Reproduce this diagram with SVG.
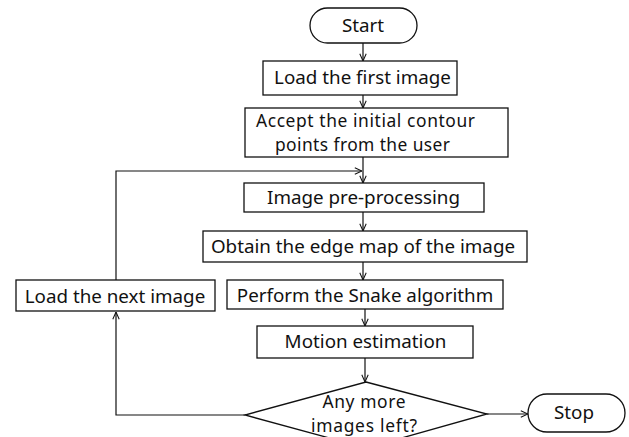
<svg xmlns="http://www.w3.org/2000/svg" width="629" height="437" viewBox="0 0 629 437">
<defs>
<style>
.box{fill:#fff;stroke:#111;stroke-width:1.3}
.t{font-family:"Noto Sans","Open Sans",sans-serif;font-size:18.8px;fill:#111;text-anchor:middle}
.t2{font-size:17.4px}
.c{fill:none;stroke:#111;stroke-width:1.2}
</style>
<marker id="ah" viewBox="0 0 10 10" refX="10" refY="5" markerWidth="8" markerHeight="8" orient="auto" markerUnits="userSpaceOnUse">
<path d="M1,1 L10,5 L1,9" fill="none" stroke="#111" stroke-width="1.3"/>
</marker>
</defs>
<rect width="629" height="437" fill="#fff"/>
<g id="connectors">
<line class="c" x1="363" y1="43" x2="363" y2="61" marker-end="url(#ah)"/>
<line class="c" x1="363" y1="95" x2="363" y2="108" marker-end="url(#ah)"/>
<line class="c" x1="363" y1="157" x2="363" y2="183" marker-end="url(#ah)"/>
<polyline class="c" points="116,280 116,171 362,171" marker-end="url(#ah)"/>
<line class="c" x1="363" y1="212" x2="363" y2="231" marker-end="url(#ah)"/>
<line class="c" x1="363" y1="262" x2="363" y2="280" marker-end="url(#ah)"/>
<line class="c" x1="365" y1="309" x2="365" y2="326" marker-end="url(#ah)"/>
<line class="c" x1="365" y1="358" x2="365" y2="382" marker-end="url(#ah)"/>
<polyline class="c" points="245,415 116,415 116,312" marker-end="url(#ah)"/>
<line class="c" x1="487" y1="414" x2="528" y2="414" marker-end="url(#ah)"/>
</g>
<g id="start">
<rect class="box" x="310" y="8" width="107" height="35" rx="17.5"/>
<text class="t" x="363" y="32">Start</text>
</g>
<g id="load-first">
<rect class="box" x="263" y="61" width="194" height="34"/>
<text class="t" x="362.5" y="84">Load the first image</text>
</g>
<g id="accept">
<rect class="box" x="245" y="108" width="263" height="49"/>
<text class="t t2"><tspan x="365.5" y="127" textLength="219" lengthAdjust="spacing">Accept the initial contour</tspan><tspan x="362.5" y="151" textLength="175" lengthAdjust="spacing">points from the user</tspan></text>
</g>
<g id="preprocess">
<rect class="box" x="244" y="183" width="240" height="29"/>
<text class="t" x="363.5" y="204">Image pre-processing</text>
</g>
<g id="edge-map">
<rect class="box" x="203" y="231" width="324" height="31"/>
<text class="t" x="363" y="253">Obtain the edge map of the image</text>
</g>
<g id="snake">
<rect class="box" x="227" y="280" width="276" height="29"/>
<text class="t" x="365" y="302">Perform the Snake algorithm</text>
</g>
<g id="load-next">
<rect class="box" x="16" y="280" width="199" height="31"/>
<text class="t" x="115" y="303">Load the next image</text>
</g>
<g id="motion">
<rect class="box" x="257" y="326" width="216" height="32"/>
<text class="t" x="365.5" y="348">Motion estimation</text>
</g>
<g id="decision">
<polygon class="box" points="366,382 487,414 366,448 245,415"/>
<text class="t t2"><tspan x="364" y="408" textLength="83" lengthAdjust="spacing">Any more</tspan><tspan x="364" y="432" textLength="106" lengthAdjust="spacing">images left?</tspan></text>
</g>
<g id="stop">
<rect class="box" x="528" y="394" width="97" height="38" rx="19"/>
<text class="t" x="574" y="419">Stop</text>
</g>
</svg>
